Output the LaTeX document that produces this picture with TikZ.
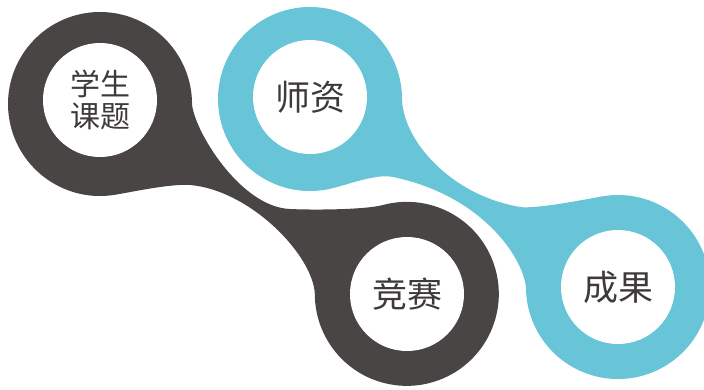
\documentclass[tikz,border=0pt]{standalone}
\usepackage{fontspec}
\newfontfamily\cjk{Noto Sans CJK SC}
\usepackage{tikz}
\definecolor{darkring}{HTML}{484544}
\definecolor{bluering}{HTML}{68C5D8}
\definecolor{labeltext}{HTML}{3E3A39}

\begin{document}
\begin{tikzpicture}[x=1pt, y=1pt, yscale=-1,
    hole/.style={circle, fill=white, minimum size=114pt, inner sep=0pt, text=labeltext, align=center, font=\cjk\fontsize{35}{40}\selectfont}]
    \useasboundingbox (0,0) rectangle (704,389);
    % dark band
    \fill[darkring] (192,104) .. controls (194,130) and (240,207) .. (290,209)
        .. controls (310,210) and (364,210) .. (383,205)
        arc[start angle=-105, end angle=180, radius=92]
        .. controls (313,255) and (250,190) .. (190,185)
        .. controls (172,183.5) and (134,191.5) .. (116,194.6)
        arc[start angle=80, end angle=360, radius=92] -- cycle;
    % blue band
    \fill[bluering] (402,99) .. controls (403,140) and (450,195) .. (520,207)
        .. controls (535,209) and (577,201) .. (602,196.4)
        arc[start angle=-100, end angle=180, radius=92]
        .. controls (522,255) and (480,195) .. (393,177)
        .. controls (375,173) and (344,186.5) .. (326,189.6)
        arc[start angle=80, end angle=360, radius=92] -- cycle;
    \node[hole, font=\cjk\fontsize{30}{32}\selectfont] (xuesheng) at (100,100) {学生\\课题};
    \node[hole] (shizi) at (310,97) {师资};
    \node[hole] (jingsai) at (407,294) {竞赛};
    \node[hole] (chengguo) at (618,287) {成果};
\end{tikzpicture}
\end{document}
